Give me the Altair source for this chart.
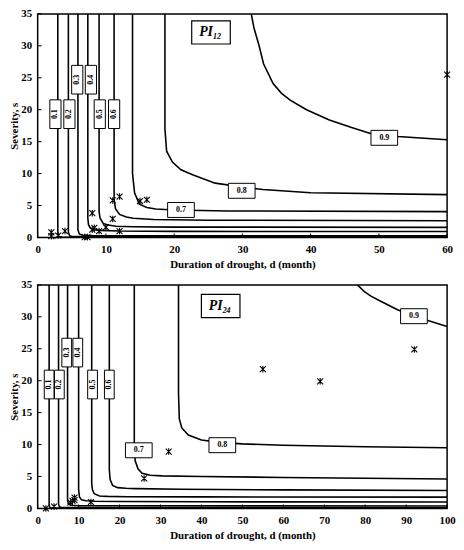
import altair as alt
import pandas as pd

LEVELS = ["0.1", "0.2", "0.3", "0.4", "0.5", "0.6", "0.7", "0.8", "0.9"]
Y_TICKS = [0, 5, 10, 15, 20, 25, 30, 35]

# ---- PI12 panel -----------------------------------------------------------
PI12_X_TICKS = [0, 10, 20, 30, 40, 50, 60]
PI12_CONTOUR_D = [
    [2.95, 2.95, 3.1, 3.6, 60],
    [4.5, 4.5, 4.7, 5.2, 60],
    [5.9, 5.9, 6.1, 6.6, 8, 60],
    [7.35, 7.35, 7.45, 7.7, 8.2, 9, 12, 20, 60],
    [9.0, 9.0, 9.15, 9.6, 10.3, 11.5, 14, 20, 60],
    [11.2, 11.2, 11.4, 12, 13, 14, 17, 25, 60],
    [13.9, 13.9, 14.2, 14.9, 16, 17.3, 20, 28, 60],
    [18.65, 18.65, 18.9, 19.75, 21, 22.7, 26, 30, 33, 40, 60],
    [31.3, 31.7, 32.4, 33.1, 34.5, 35.7, 37, 39.4, 42.75, 46, 49, 52.8, 60],
]
PI12_CONTOUR_S = [
    [35, 0.6, 0.15, 0.05, 0.02],
    [35, 0.8, 0.25, 0.12, 0.08],
    [35, 1.2, 0.55, 0.35, 0.28, 0.25],
    [35, 3, 2.0, 1.5, 1.25, 1.1, 1.0, 0.95, 0.92],
    [35, 4, 3, 2.2, 1.95, 1.75, 1.68, 1.62, 1.58],
    [35, 6, 4.5, 3.6, 3.2, 3.0, 2.8, 2.7, 2.6],
    [35, 10, 7, 5.2, 4.7, 4.45, 4.3, 4.15, 4.04],
    [35, 17, 13.5, 11.8, 10.6, 9.8, 8.5, 7.9, 7.5, 7.0, 6.7],
    [35, 32.8, 30.2, 27.2, 24.1, 22.6, 21.5, 20.0, 18.4, 17.2, 16.2, 15.8, 15.3],
]
PI12_LABEL_D = [2.6, 4.65, 5.8, 7.8, 9.1, 11.2, 21.0, 29.9, 50.8]
PI12_LABEL_S = [19.3, 19.3, 24.7, 24.7, 19.3, 19.3, 4.3, 7.3, 15.6]
PI12_OBS_D = [2.0, 2.0, 3.0, 4.0, 6.9, 7.3, 8.0, 8.0, 8.3, 9.0, 10.0, 11.0, 11.0, 12.0, 12.0, 15.0, 16.0, 60.0]
PI12_OBS_S = [0.2, 0.8, 0.3, 1.0, 0.05, 0.05, 3.8, 1.2, 1.5, 1.0, 1.6, 2.9, 5.8, 6.4, 1.0, 5.7, 5.9, 25.5]

# ---- PI24 panel -----------------------------------------------------------
PI24_X_TICKS = [0, 10, 20, 30, 40, 50, 60, 70, 80, 90, 100]
PI24_CONTOUR_D = [
    [2.8, 2.8, 3.0, 3.5, 100],
    [5.1, 5.1, 5.3, 6, 100],
    [7.3, 7.3, 7.5, 8.2, 10, 100],
    [10, 10, 10.2, 10.7, 11.8, 14, 20, 40, 100],
    [13.2, 13.2, 13.35, 13.8, 15.1, 17, 22, 40, 100],
    [17.5, 17.5, 17.7, 18.3, 19.5, 21.5, 24, 35, 60, 100],
    [23.6, 23.6, 23.8, 24.5, 25.5, 27.5, 30.4, 40, 60, 100],
    [34.4, 34.4, 34.6, 35.2, 36.8, 40, 45, 50, 60, 80, 100],
    [78.1, 79.8, 81.5, 83.9, 87.9, 91.9, 95.9, 100],
]
PI24_CONTOUR_S = [
    [35, 0.5, 0.15, 0.06, 0.03],
    [35, 0.7, 0.25, 0.12, 0.08],
    [35, 1.3, 0.7, 0.5, 0.42, 0.38],
    [35, 3, 1.8, 1.35, 1.2, 1.12, 1.07, 1.03, 1.0],
    [35, 4, 3, 2.3, 1.95, 1.88, 1.83, 1.8, 1.77],
    [35, 6, 4.5, 3.6, 3.25, 3.15, 3.1, 3.0, 2.9, 2.8],
    [35, 10, 7.5, 6.2, 5.5, 5.2, 5.1, 5.0, 4.85, 4.6],
    [35, 18, 14, 12.6, 11.5, 10.7, 10.3, 10.1, 9.9, 9.65, 9.5],
    [35, 33.95, 33.2, 32.4, 31.1, 30.1, 29.3, 28.5],
]
PI24_LABEL_D = [2.8, 5.3, 7.1, 9.8, 13.4, 17.5, 24.7, 45.1, 91.9]
PI24_LABEL_S = [19.4, 19.4, 24.4, 24.4, 19.4, 19.4, 9.1, 9.9, 30.1]
PI24_OBS_D = [2.0, 4.0, 8.0, 8.5, 9.0, 9.0, 13.0, 26.0, 32.0, 55.0, 69.0, 92.0]
PI24_OBS_S = [0.0, 0.3, 0.9, 1.2, 1.7, 1.3, 1.0, 4.7, 8.9, 21.8, 19.9, 24.9]

SERIF = "Liberation Serif"
W, H = 414, 226

VBOX12 = "M-0.39,-1L0.39,-1L0.39,1L-0.39,1Z"
VBOX24 = "M-0.34,-1L0.34,-1L0.34,1L-0.34,1Z"
HBOX = "M-1,-0.56L1,-0.56L1,0.56L-1,0.56Z"
TBOX = "M-1,-0.6L1,-0.6L1,0.6L-1,0.6Z"
STAR = "M-1,-1L1,1M-1,1L1,-1M0,-1.1L0,1.1"


def panel(sub, cd, cs, ld, ls, od, os_, xmax, xticks, title_d, title_s, vshape):
    rows = []
    for lev, ds, ss in zip(LEVELS, cd, cs):
        for i, (d, s) in enumerate(zip(ds, ss)):
            rows.append({"level": lev, "i": i, "d": d, "s": s})
    lines = pd.DataFrame(rows)
    labels = pd.DataFrame({"level": LEVELS, "d": ld, "s": ls})
    vlab = labels.iloc[:6]
    hlab = labels.iloc[6:]
    obs = pd.DataFrame({"d": od, "s": os_})
    xt = pd.DataFrame({"d": xticks})
    yt = pd.DataFrame({"s": Y_TICKS})
    ttl = pd.DataFrame({"d": [title_d], "s": [title_s], "a": ["PI"], "b": [sub]})

    xs = alt.Scale(domain=[0, xmax], nice=False, zero=False)
    ys = alt.Scale(domain=[0, 35], nice=False)
    xax = alt.Axis(values=xticks, title="Duration of drought, d (month)",
                   labelFlush=False, labelPadding=6, titlePadding=4)
    yax = alt.Axis(values=Y_TICKS, title="Severity, s", labelFlush=False,
                   labelPadding=6, titlePadding=1)
    X = alt.X("d:Q", scale=xs, axis=xax)
    Y = alt.Y("s:Q", scale=ys, axis=yax)

    line = alt.Chart(lines).mark_line(color="black", strokeWidth=1.6, clip=True).encode(
        x=X, y=Y, detail="level:N", order="i:Q")
    xtick = alt.Chart(xt).mark_rule(color="black", strokeWidth=1).encode(
        x=X, y=alt.value(H), y2=alt.value(H - 4))
    ytick = alt.Chart(yt).mark_rule(color="black", strokeWidth=1).encode(
        y=Y, x=alt.value(0), x2=alt.value(4))
    obs_l = alt.Chart(obs).mark_point(shape=STAR, size=36, filled=False, stroke="black",
                                      strokeWidth=1.1, opacity=1).encode(x=X, y=Y)
    vbox = alt.Chart(vlab).mark_point(shape=vshape, size=841, filled=True, fill="white",
                                      stroke="black", strokeWidth=1, opacity=1).encode(x=X, y=Y)
    vtxt = alt.Chart(vlab).mark_text(font=SERIF, fontWeight="bold", fontSize=8, angle=270,
                                     color="black").encode(x=X, y=Y, text="level:N")
    hbox = alt.Chart(hlab).mark_point(shape=HBOX, size=729, filled=True, fill="white",
                                      stroke="black", strokeWidth=1, opacity=1).encode(x=X, y=Y)
    htxt = alt.Chart(hlab).mark_text(font=SERIF, fontWeight="bold", fontSize=8,
                                     color="black").encode(x=X, y=Y, text="level:N")
    tbox = alt.Chart(ttl).mark_point(shape=TBOX, size=1521, filled=True, fill="white",
                                     stroke="black", strokeWidth=1.2, opacity=1).encode(x=X, y=Y)
    ta = alt.Chart(ttl).mark_text(font=SERIF, fontWeight="bold", fontStyle="italic", fontSize=14,
                                  align="right", dx=2, color="black").encode(x=X, y=Y, text="a:N")
    tb = alt.Chart(ttl).mark_text(font=SERIF, fontWeight="bold", fontStyle="italic", fontSize=8,
                                  align="left", dx=2, dy=5, color="black").encode(x=X, y=Y, text="b:N")
    return alt.layer(line, xtick, ytick, obs_l, vbox, vtxt, hbox, htxt, tbox, ta, tb).properties(
        width=W, height=H)


top = panel("12", PI12_CONTOUR_D, PI12_CONTOUR_S, PI12_LABEL_D, PI12_LABEL_S,
            PI12_OBS_D, PI12_OBS_S, 60, PI12_X_TICKS, 25.4, 32.1, VBOX12)
bottom = panel("24", PI24_CONTOUR_D, PI24_CONTOUR_S, PI24_LABEL_D, PI24_LABEL_S,
               PI24_OBS_D, PI24_OBS_S, 100, PI24_X_TICKS, 44.7, 31.7, VBOX24)

chart = alt.vconcat(top, bottom, spacing=8).properties(
    padding={"top": -4, "left": 0, "right": 0, "bottom": 0}
).configure_view(
    stroke="black", strokeWidth=1.5
).configure_axis(
    domain=False, ticks=False, grid=False,
    labelFont=SERIF, labelFontWeight="bold", labelFontSize=11, labelColor="black",
    titleFont=SERIF, titleFontWeight="bold", titleFontSize=11, titleColor="black",
)

chart.save("out.html", embed_options={"renderer": "svg", "actions": False})
